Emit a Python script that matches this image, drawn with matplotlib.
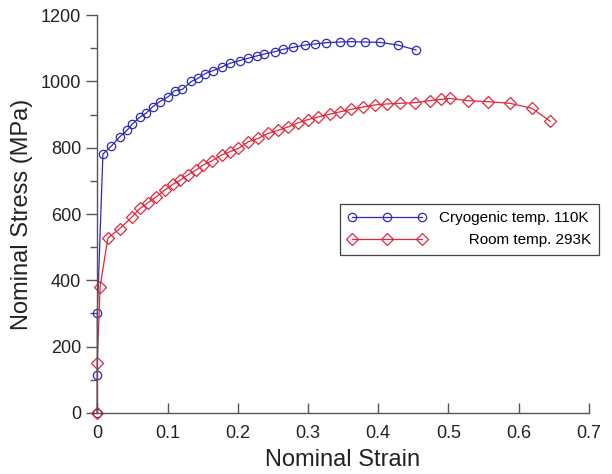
import matplotlib
matplotlib.use("Agg")
import matplotlib.pyplot as plt
from matplotlib.ticker import MultipleLocator

plt.rcParams['font.family'] = ['Liberation Sans', 'DejaVu Sans']

# Cryogenic temp. 110K (blue circles)
cryo_strain = [0, 0, 0, 0.008, 0.020, 0.032, 0.042, 0.050, 0.061, 0.070, 0.079,
               0.089, 0.101, 0.110, 0.121, 0.134, 0.144, 0.153, 0.165, 0.177,
               0.189, 0.203, 0.215, 0.227, 0.238, 0.253, 0.265, 0.279, 0.296,
               0.310, 0.326, 0.345, 0.362, 0.381, 0.402, 0.428, 0.454]
cryo_stress = [0, 115, 300, 781, 805, 833, 852, 872, 893, 905, 924,
               939, 954, 972, 976, 1000, 1010, 1023, 1033, 1043,
               1055, 1063, 1070, 1077, 1083, 1090, 1097, 1103, 1110,
               1113, 1117, 1119, 1120, 1119, 1118, 1110, 1095]

# Room temp. 293K (red diamonds)
room_strain = [0, 0, 0.004, 0.015, 0.032, 0.049, 0.061, 0.072, 0.084, 0.096, 0.108,
               0.118, 0.129, 0.141, 0.151, 0.163, 0.177, 0.189, 0.201, 0.215,
               0.229, 0.243, 0.258, 0.272, 0.286, 0.300, 0.315, 0.331, 0.345,
               0.362, 0.379, 0.395, 0.412, 0.431, 0.452, 0.474, 0.490, 0.502,
               0.528, 0.556, 0.588, 0.619, 0.645]
room_stress = [0, 150, 381, 527, 556, 590, 617, 634, 652, 672, 690,
               702, 718, 733, 748, 760, 778, 788, 798, 818,
               828, 843, 853, 863, 875, 885, 893, 901, 908,
               916, 923, 929, 932, 934, 936, 942, 946, 949,
               942, 939, 934, 919, 880]

fig = plt.figure(figsize=(6.12, 4.74), dpi=100)
ax = fig.add_axes([0.159, 0.129, 0.803, 0.839])

blue = '#2b2bb8'
red = '#e0283c'

ax.plot(cryo_strain, cryo_stress, color=blue, lw=0.9, marker='o', ms=6,
        mfc='none', mec=blue, mew=0.9, label='Cryogenic temp. 110K')
ax.plot(room_strain, room_stress, color=red, lw=0.9, marker='D', ms=6.5,
        mfc='none', mec=red, mew=0.9, label='       Room temp. 293K')

ax.set_xlim(0, 0.7)
ax.set_ylim(0, 1200)
ax.yaxis.set_major_locator(MultipleLocator(200))
ax.yaxis.set_minor_locator(MultipleLocator(100))
ax.set_xticks([0, 0.1, 0.2, 0.3, 0.4, 0.5, 0.6, 0.7])
ax.set_xticklabels(['0', '0.1', '0.2', '0.3', '0.4', '0.5', '0.6', '0.7'])

for s in ['top', 'right']:
    ax.spines[s].set_visible(False)
for s in ['left', 'bottom']:
    ax.spines[s].set_color('#555555')
    ax.spines[s].set_linewidth(1.0)

ax.tick_params(axis='x', direction='in', length=7, width=1, color='#555555',
               labelsize=13, labelcolor='#222222', pad=9)
ax.tick_params(axis='y', which='major', direction='out', length=8, width=1,
               color='#555555', labelsize=13, labelcolor='#222222')
ax.tick_params(axis='y', which='minor', direction='out', length=5, width=1,
               color='#555555')

ax.set_xlabel('Nominal Strain', fontsize=17, color='#222222', labelpad=5)
ax.set_ylabel('Nominal Stress (MPa)', fontsize=17, color='#222222', labelpad=6)

leg = ax.legend(loc='upper left', bbox_to_anchor=(0.478, 0.545), fontsize=11,
                numpoints=3, handlelength=5.2, fancybox=False, framealpha=1,
                edgecolor='#444444', borderpad=0.5, handletextpad=0.8)
leg.get_frame().set_linewidth(0.9)

for line in ax.get_lines():
    line.set_clip_on(False)

fig.savefig('out.png', dpi=100)
